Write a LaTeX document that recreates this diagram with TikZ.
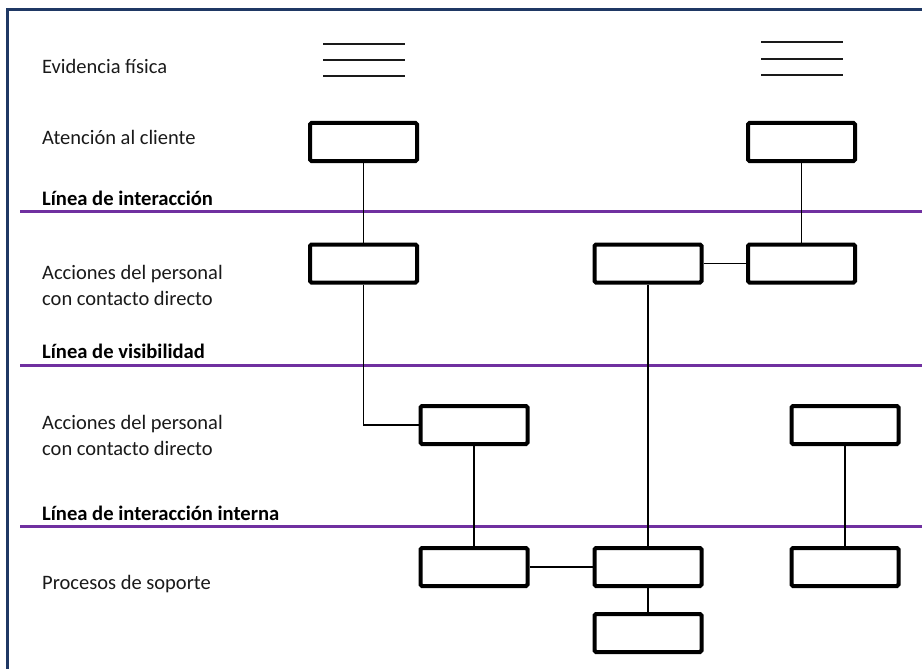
\documentclass[tikz,border=0pt]{standalone}
\usepackage{fontspec}
\setmainfont{Carlito}
\definecolor{navy}{HTML}{1F3864}
\definecolor{lilac}{HTML}{7030A0}
\definecolor{ink}{HTML}{1A1A1A}
\begin{document}
\begin{tikzpicture}[x=1pt,y=-1pt,
  box/.style={draw=black,line width=4pt,rounded corners=1.5pt,minimum width=107pt,minimum height=38pt,inner sep=0pt},
  lbl/.style={anchor=base west,inner sep=0pt,text=ink,font=\fontsize{20.5}{26}\selectfont},
  lblb/.style={lbl,font=\fontsize{20.6}{26}\selectfont\bfseries,text=black},
  conn/.style={draw=black,line width=1.3pt},
  sep/.style={draw=lilac,line width=3pt},
  evid/.style={draw=ink,line width=2pt}]
\useasboundingbox (0,0) rectangle (922,669);
\fill[white] (0,0) rectangle (922,669);
% frame
\draw[navy,line width=3.5pt] (7.5,669) -- (7.5,9.3) -- (922,9.3);
% separators
\coordinate (s1a) at (20,211); \coordinate (s1b) at (922,211);
\coordinate (s2a) at (20,365); \coordinate (s2b) at (922,365);
\coordinate (s3a) at (20,526); \coordinate (s3b) at (922,526);
\draw[sep] (s1a) -- (s1b);
\draw[sep] (s2a) -- (s2b);
\draw[sep] (s3a) -- (s3b);
% labels
\node[lbl] (t1) at (42,74) {Evidencia física};
\node[lbl] (t2) at (42,144) {Atención al cliente};
\node[lblb] (t3) at (42,205) {Línea de interacción};
\node[lbl] (t4) at (42,279) {Acciones del personal};
\node[lbl] (t4b) at (42,305) {con contacto directo};
\node[lblb] (t5) at (42,358) {Línea de visibilidad};
\node[lbl] (t6) at (42,429) {Acciones del personal};
\node[lbl] (t6b) at (42,455) {con contacto directo};
\node[lblb] (t7) at (42,520) {Línea de interacción interna};
\node[lbl] (t8) at (42,589) {Procesos de soporte};
% physical evidence lines
\foreach \yy in {44,60,76} \draw[evid] (323,\yy) -- (405,\yy);
\foreach \yy in {42,59,75} \draw[evid] (761,\yy) -- (843,\yy);
% boxes
\node[box] (a1) at (363.5,142) {};
\node[box] (a2) at (801.5,142) {};
\node[box] (b1) at (363.5,263.5) {};
\node[box] (b2) at (648,263.5) {};
\node[box] (b3) at (801.5,263.5) {};
\node[box] (c1) at (474,425) {};
\node[box] (c2) at (845,425) {};
\node[box] (d1) at (474,567) {};
\node[box] (d2) at (648,567) {};
\node[box] (d3) at (845,567) {};
\node[box] (e1) at (648,633) {};
% connectors
\draw[conn] (a1) -- (b1);
\draw[conn] (a2) -- (b3);
\draw[conn] (b2) -- (b3);
\draw[conn] (b1.south) |- (c1.west);
\draw[conn] (c1) -- (d1);
\draw[conn] (d1) -- (d2);
\draw[conn] (b2) -- (d2);
\draw[conn] (d2) -- (e1);
\draw[conn] (c2) -- (d3);
\end{tikzpicture}
\end{document}
